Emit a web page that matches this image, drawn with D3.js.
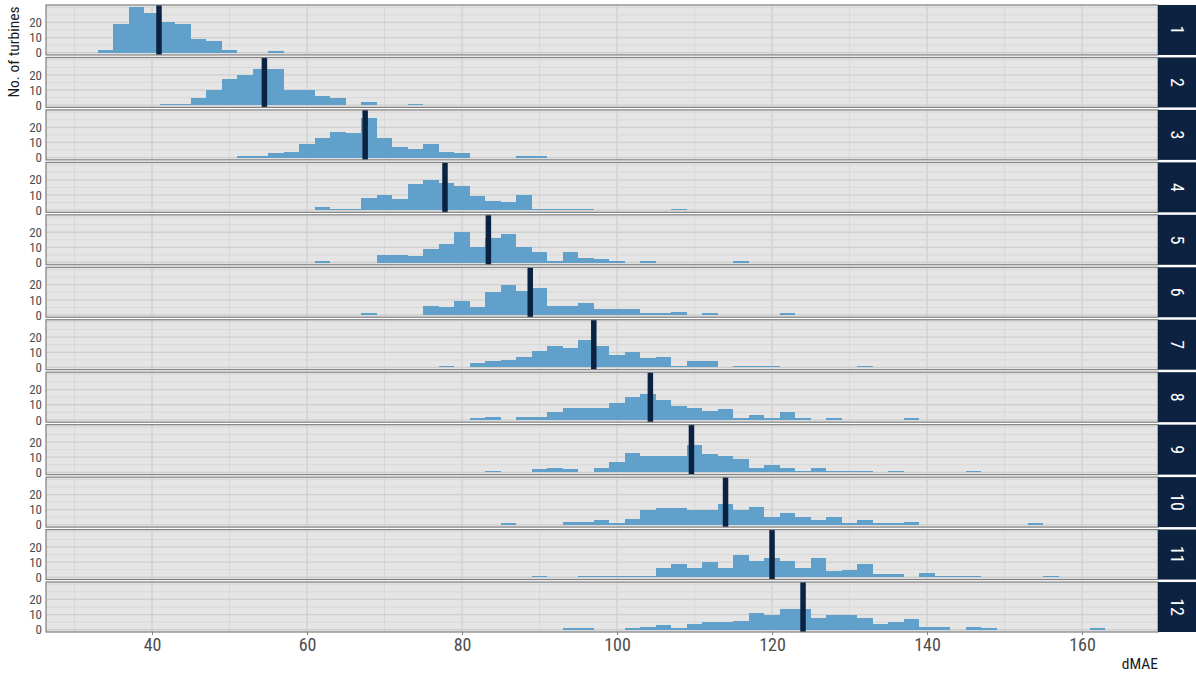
<!DOCTYPE html>
<html>
<head>
<meta charset="utf-8">
<script src="https://cdn.jsdelivr.net/npm/d3@7"></script>
<style>
  body { margin: 0; background: #ffffff; }
  text { font-family: "Roboto Condensed", "Liberation Sans Narrow", "Roboto", sans-serif; }
</style>
</head>
<body>
<svg id="chart" width="1196" height="677"></svg>
<script>
// Histogram settings shared by all facets
const binWidth = 2;
const facetLabels = ["1", "2", "3", "4", "5", "6", "7", "8", "9", "10", "11", "12"];
// Left edge of the first bin in each facet
const firstBinEdge = [33, 41, 51, 61, 61, 67, 77, 81, 83, 85, 89, 93];
// Median dMAE per facet (vertical marker)
const medianDMAE = [40.9, 54.5, 67.5, 77.8, 83.4, 88.8, 97.0, 104.3, 109.6, 114.0, 120.0, 124.0];

// Turbine counts per bin, one array per facet, starting at firstBinEdge
const counts1 = [2, 19, 30, 26, 20, 19, 9, 8, 2, 0, 0, 1];
const counts2 = [1, 1, 5, 10, 17, 20, 24, 24, 10, 10, 6, 5, 0, 2, 0, 0, 1];
const counts3 = [1, 1, 3, 4, 9, 13, 17, 16, 26, 13, 7, 6, 9, 4, 3, 0, 0, 0, 1, 1];
const counts4 = [2, 1, 1, 8, 10, 7, 17, 20, 18, 16, 9, 6, 5, 10, 1, 1, 1, 1, 0, 0, 0, 0, 0, 1];
const counts5 = [1, 0, 0, 0, 5, 5, 4, 9, 12, 20, 10, 16, 19, 10, 7, 1, 7, 3, 2, 1, 0, 1, 0, 0, 0, 0, 0, 1];
const counts6 = [1, 0, 0, 0, 6, 5, 9, 5, 15, 20, 16, 18, 6, 6, 8, 4, 4, 4, 1, 1, 2, 0, 1, 0, 0, 0, 0, 1];
const counts7 = [1, 0, 3, 4, 5, 7, 11, 14, 13, 18, 14, 8, 10, 6, 7, 1, 4, 4, 0, 1, 1, 1, 0, 0, 0, 0, 0, 1];
const counts8 = [1, 2, 0, 2, 2, 5, 8, 8, 8, 11, 15, 17, 13, 9, 8, 6, 7, 1, 3, 1, 5, 1, 0, 1, 0, 0, 0, 0, 1];
const counts9 = [1, 0, 0, 2, 3, 2, 0, 3, 7, 13, 11, 11, 11, 18, 12, 11, 9, 3, 5, 3, 1, 3, 1, 1, 1, 0, 1, 0, 0, 0, 0, 1];
const counts10 = [1, 0, 0, 0, 2, 2, 3, 1, 4, 10, 11, 11, 10, 10, 14, 10, 12, 5, 8, 5, 3, 5, 1, 3, 1, 1, 2, 0, 0, 0, 0, 0, 0, 0, 1];
const counts11 = [1, 0, 0, 1, 1, 1, 1, 1, 6, 9, 6, 10, 6, 15, 11, 13, 11, 6, 13, 4, 5, 9, 2, 2, 0, 3, 1, 1, 1, 0, 0, 0, 0, 1];
const counts12 = [1, 1, 0, 0, 1, 2, 3, 1, 4, 5, 5, 6, 11, 10, 14, 14, 8, 10, 10, 8, 4, 5, 7, 2, 2, 0, 2, 1, 0, 0, 0, 0, 0, 0, 1];

const facetCounts = [counts1, counts2, counts3, counts4, counts5, counts6,
                     counts7, counts8, counts9, counts10, counts11, counts12];

const xTicks = [40, 60, 80, 100, 120, 140, 160];
const xMinorTicks = [30, 50, 70, 90, 110, 130, 150];
const yTicks = [0, 10, 20];
const yMinorTicks = [5, 15, 25, 30];

const xTitle = "dMAE";
const yTitle = "No. of turbines";

// Layout
const W = 1196, H = 677;
const plotLeft = 46, plotRight = 1158, stripWidth = 38;
const plotTop = 5, plotBottom = 632, panelGap = 2.5;
const nPanels = facetCounts.length;
const panelH = (plotBottom - plotTop - panelGap * (nPanels - 1)) / nPanels;

const colors = {
  panel: "#e5e5e5",
  gridMajor: "#cfcfcf",
  gridMinor: "#d8d8d8",
  border: "#7f7f7f",
  bar: "#61a0cb",
  median: "#0b2343",
  strip: "#0c2240",
  axisText: "#4d4d4d"
};

const svg = d3.select("#chart");

const x = d3.scaleLinear().domain([26.32, 169.8]).range([plotLeft, plotRight]);

facetCounts.forEach((counts, i) => {
  const top = plotTop + i * (panelH + panelGap);
  const y = d3.scaleLinear().domain([-1.5, 31.5]).range([top + panelH, top]);
  const g = svg.append("g").attr("class", "panel");

  const bins = counts.map((c, k) => ({ x0: firstBinEdge[i] + k * binWidth, x1: firstBinEdge[i] + (k + 1) * binWidth, n: c }))
                     .filter(d => d.n > 0);

  g.append("rect")
    .attr("x", plotLeft).attr("y", top)
    .attr("width", plotRight - plotLeft).attr("height", panelH)
    .attr("fill", colors.panel);

  // grid
  g.selectAll(".vminor").data(xMinorTicks).join("line")
    .attr("x1", d => x(d)).attr("x2", d => x(d))
    .attr("y1", top).attr("y2", top + panelH)
    .attr("stroke", colors.gridMinor).attr("stroke-width", 1);
  g.selectAll(".vmajor").data(xTicks).join("line")
    .attr("x1", d => x(d)).attr("x2", d => x(d))
    .attr("y1", top).attr("y2", top + panelH)
    .attr("stroke", colors.gridMajor).attr("stroke-width", 1.3);
  g.selectAll(".hminor").data(yMinorTicks).join("line")
    .attr("x1", plotLeft).attr("x2", plotRight)
    .attr("y1", d => y(d)).attr("y2", d => y(d))
    .attr("stroke", colors.gridMinor).attr("stroke-width", 1);
  g.selectAll(".hmajor").data(yTicks).join("line")
    .attr("x1", plotLeft).attr("x2", plotRight)
    .attr("y1", d => y(d)).attr("y2", d => y(d))
    .attr("stroke", colors.gridMajor).attr("stroke-width", 1.3);

  // histogram bars
  g.selectAll(".bar").data(bins).join("rect")
    .attr("x", d => x(d.x0))
    .attr("width", d => x(d.x1) - x(d.x0))
    .attr("y", d => y(d.n))
    .attr("height", d => y(0) - y(d.n))
    .attr("fill", colors.bar)
    .attr("shape-rendering", "crispEdges");

  // median marker
  g.append("line")
    .attr("x1", x(medianDMAE[i])).attr("x2", x(medianDMAE[i]))
    .attr("y1", top).attr("y2", top + panelH)
    .attr("stroke", colors.median).attr("stroke-width", 5.5);

  // panel border
  g.append("rect")
    .attr("x", plotLeft).attr("y", top)
    .attr("width", plotRight - plotLeft).attr("height", panelH)
    .attr("fill", "none").attr("stroke", colors.border).attr("stroke-width", 1.2);

  // y axis labels
  const yAxis = d3.axisLeft(y).tickValues(yTicks).tickSize(0).tickPadding(4).tickFormat(d3.format("d"));
  const ya = svg.append("g").attr("transform", `translate(${plotLeft},0)`).call(yAxis);
  ya.select(".domain").remove();
  ya.selectAll("text").attr("fill", colors.axisText).attr("font-size", 13);

  // strip
  svg.append("rect")
    .attr("x", plotRight).attr("y", top)
    .attr("width", stripWidth).attr("height", panelH)
    .attr("fill", colors.strip);
  svg.append("text")
    .attr("transform", `translate(${plotRight + stripWidth / 2},${top + panelH / 2}) rotate(90)`)
    .attr("text-anchor", "middle").attr("dominant-baseline", "central")
    .attr("fill", "#ffffff").attr("font-size", 18)
    .text(facetLabels[i]);
});

// x axis
const xAxis = d3.axisBottom(x).tickValues(xTicks).tickSize(3).tickPadding(3).tickFormat(d3.format("d"));
const xa = svg.append("g").attr("transform", `translate(0,${plotBottom})`).call(xAxis);
xa.select(".domain").remove();
xa.selectAll(".tick line").attr("stroke", "#7f7f7f");
xa.selectAll("text").attr("fill", colors.axisText).attr("font-size", 18);

// titles
svg.append("text")
  .attr("x", plotRight).attr("y", 669)
  .attr("text-anchor", "end").attr("font-size", 15.5).attr("fill", "#1a1a1a")
  .text(xTitle);
svg.append("text")
  .attr("transform", `translate(19,52) rotate(-90)`)
  .attr("text-anchor", "middle").attr("font-size", 15.5).attr("fill", "#1a1a1a")
  .text(yTitle);
</script>
</body>
</html>
